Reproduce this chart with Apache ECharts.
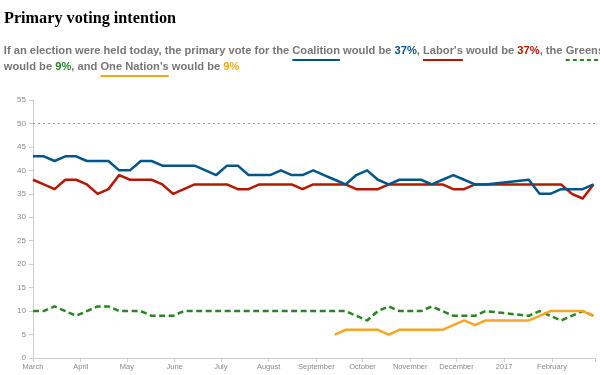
<!DOCTYPE html>
<html><head><meta charset="utf-8">
<script src="https://cdn.jsdelivr.net/npm/echarts@6/dist/echarts.min.js"></script>
<style>html,body{margin:0;padding:0;background:#fff}#c{width:600px;height:375px}</style>
</head><body><div id="c"></div>
<script>
// ---------- data ----------
const pollDates = [
  '2016-03-01','2016-03-08','2016-03-15','2016-03-22','2016-03-29',
  '2016-04-05','2016-04-12','2016-04-19','2016-04-26',
  '2016-05-03','2016-05-10','2016-05-17','2016-05-24','2016-05-31',
  '2016-06-07','2016-06-14','2016-06-21','2016-06-28',
  '2016-07-05','2016-07-12','2016-07-19','2016-07-26',
  '2016-08-02','2016-08-09','2016-08-16','2016-08-23','2016-08-30',
  '2016-09-06','2016-09-13','2016-09-20','2016-09-27',
  '2016-10-04','2016-10-11','2016-10-18','2016-10-25',
  '2016-11-01','2016-11-08','2016-11-15','2016-11-22','2016-11-29',
  '2016-12-06','2016-12-13','2016-12-20',
  '2017-01-17','2017-01-24','2017-01-31',
  '2017-02-07','2017-02-14','2017-02-21','2017-02-28'
];
const coalition = [43,43,42,43,43, 42,42,42,40, 40,42,42,41,41, 41,41,40,39, 41,41,39,39,
  39,40,39,39,40, 39,38,37,39, 40,38,37,38, 38,38,37,38,39, 38,37,37, 38,35,35, 36,36,36,37];
const labor = [38,37,36,38,38, 37,35,36,39, 38,38,38,37,35, 36,37,37,37, 37,36,36,37,
  37,37,37,36,37, 37,37,37,36, 36,36,37,37, 37,37,37,37,36, 36,37,37, 37,37,37, 37,35,34,37];
const greens = [10,10,11,10,9, 10,11,11,10, 10,10,9,9,9, 10,10,10,10, 10,10,10,10,
  10,10,10,10,10, 10,10,10,9, 8,10,11,10, 10,10,11,10,9, 9,9,10, 9,10,9, 8,9,10,9];
const oneNation = [null,null,null,null,null, null,null,null,null, null,null,null,null,null,
  null,null,null,null, null,null,null,null, null,null,null,null,null, null,5,6,6,
  6,6,5,6, 6,6,6,6,7, 8,7,8, 8,9,10, 10,10,10,9];
const axisMin = '2016-03-01';
const axisMax = '2017-03-01';
const yTicks = {min: 0, max: 55, step: 5};
const monthNames = ['January','February','March','April','May','June','July','August','September','October','November','December'];

const titleText = 'Primary voting intention';
const subLine1 = [
  {t: 'If an election were held today, the primary vote for the ', role: 'plain'},
  {t: 'Coalition', role: 'plain', u: 'coalition'},
  {t: ' would be ', role: 'plain'},
  {t: '37%', role: 'coalition'},
  {t: ', ', role: 'plain'},
  {t: "Labor's", role: 'plain', u: 'labor'},
  {t: ' would be ', role: 'plain'},
  {t: '37%', role: 'labor'},
  {t: ', the ', role: 'plain'},
  {t: "Greens'", role: 'plain', u: 'greens'}
];
const subLine2 = [
  {t: 'would be ', role: 'plain'},
  {t: '9%', role: 'greens'},
  {t: ', and ', role: 'plain'},
  {t: "One Nation's", role: 'plain', u: 'oneNation'},
  {t: ' would be ', role: 'plain'},
  {t: '9%', role: 'oneNation'}
];

// ---------- styles ----------
const colors = {coalition: '#005689', labor: '#b51800', greens: '#298422', oneNation: '#f5a623', plain: '#767676'};

const ctx = document.createElement('canvas').getContext('2d');
function measure(text, font) { ctx.font = font; return ctx.measureText(text).width; }

const toTs = s => { const p = s.split('-').map(Number); return new Date(p[0], p[1]-1, p[2]).getTime(); };
const pairs = arr => pollDates.map((d, i) => [toTs(d), arr[i]]);
const maxTs = toTs(axisMax);

// header graphics
const titleFont = 'bold 17px "Liberation Serif", "Times New Roman", serif';
const titleScale = 172 / measure(titleText, titleFont);
const subFamily = '"Liberation Sans", Arial, sans-serif';
const subFont = 'bold 11px ' + subFamily;
const subScale = 288.5 / measure(subLine1[0].t, subFont);

function buildLine(segs, y) {
  const children = [];
  let x = 0;
  segs.forEach(s => {
    const w = measure(s.t, subFont);
    children.push({type: 'text', x: x, y: 0,
      style: {text: s.t, fontFamily: subFamily, fontSize: 11, fontWeight: 'bold', fill: colors[s.role], verticalAlign: 'middle', align: 'left'}});
    if (s.u) {
      children.push({type: 'line', shape: {x1: x, y1: 9, x2: x + w, y2: 9},
        style: {stroke: colors[s.u], lineWidth: 2, lineDash: s.u === 'greens' ? [4, 3] : null}});
    }
    x += w;
  });
  return {type: 'group', x: 3.8, y: y, scaleX: subScale, children: children};
}

const chart = echarts.init(document.getElementById('c'), null, {renderer: 'canvas'});
const lineBase = {type: 'line', showSymbol: false, symbol: 'none', animation: false, connectNulls: false};
chart.setOption({
  animation: false,
  graphic: [
    {type: 'text', x: 4, y: 19, scaleX: titleScale,
     style: {text: titleText, fontFamily: '"Liberation Serif", "Times New Roman", serif', fontSize: 17, fontWeight: 'bold', fill: '#000', verticalAlign: 'middle'}},
    buildLine(subLine1, 51),
    buildLine(subLine2, 67)
  ],
  grid: {left: 33, right: 5, top: 100, bottom: 17, containLabel: false},
  xAxis: {
    type: 'time', min: toTs(axisMin), max: maxTs, splitNumber: 12,
    minInterval: 28 * 864e5, maxInterval: 31 * 864e5,
    axisLine: {lineStyle: {color: '#cccccc', width: 1}},
    axisTick: {show: true, length: 4, lineStyle: {color: '#cccccc'}},
    axisLabel: {fontSize: 7.5, color: '#888', margin: 5, showMaxLabel: false, hideOverlap: false,
      fontFamily: '"Liberation Sans", Arial, sans-serif',
      formatter: v => { if (v >= maxTs) return ''; const d = new Date(v); return d.getMonth() === 0 ? String(d.getFullYear()) : monthNames[d.getMonth()]; }},
    splitLine: {show: false}
  },
  yAxis: {
    type: 'value', min: yTicks.min, max: yTicks.max, interval: yTicks.step,
    axisLine: {show: true, lineStyle: {color: '#cccccc'}},
    axisTick: {show: true, length: 4, lineStyle: {color: '#cccccc'}},
    axisLabel: {fontSize: 8, color: '#888', margin: 7, fontFamily: '"Liberation Sans", Arial, sans-serif'},
    splitLine: {show: false}
  },
  series: [
    Object.assign({}, lineBase, {name: 'Greens', data: pairs(greens), z: 2,
      lineStyle: {color: colors.greens, width: 2.5, type: [6, 3.5], join: 'round'}}),
    Object.assign({}, lineBase, {name: 'One Nation', data: pairs(oneNation), z: 3,
      lineStyle: {color: colors.oneNation, width: 2.5, join: 'round'}}),
    Object.assign({}, lineBase, {name: 'Labor', data: pairs(labor), z: 4,
      lineStyle: {color: colors.labor, width: 2.5, join: 'round'}}),
    Object.assign({}, lineBase, {name: 'Coalition', data: pairs(coalition), z: 5,
      lineStyle: {color: colors.coalition, width: 2.5, join: 'round'},
      markLine: {silent: true, symbol: 'none', label: {show: false}, animation: false,
        lineStyle: {type: [2, 3], color: '#999', width: 1}, data: [{yAxis: 50}]}})
  ]
});
</script></body></html>
